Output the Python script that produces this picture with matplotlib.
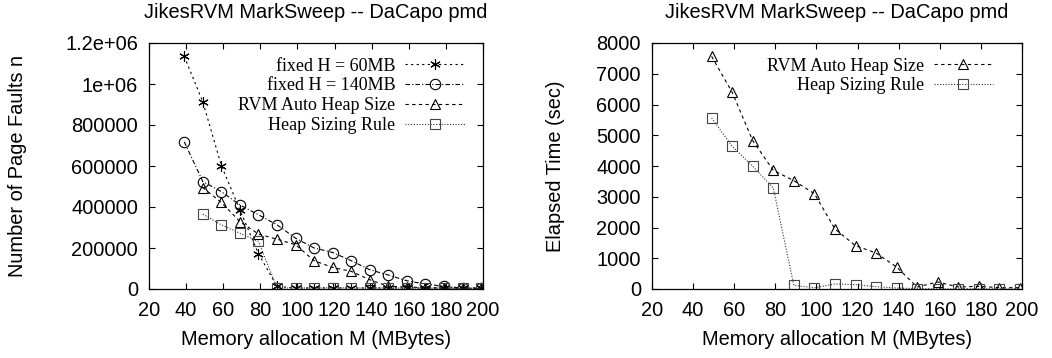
import matplotlib
matplotlib.use("Agg")
import matplotlib.pyplot as plt

# memory allocation (MB)
mem_left = [39, 49, 59, 69, 79, 89, 99, 109, 119, 129, 139, 149, 159, 169, 179, 189, 199]
mem_auto = mem_left[1:]

# page faults
faults_fixed60 = [1135000, 913000, 602000, 386000, 172000, 13000, 5000, 5000, 5000, 5000,
                  5000, 5000, 5000, 5000, 5000, 5000, 5000]
faults_fixed140 = [718000, 524000, 475000, 410000, 362000, 313000, 248000, 200000, 178000,
                   138000, 94000, 68000, 40000, 24000, 13000, 5000, 3000]
faults_auto = [495000, 422000, 329000, 268000, 243000, 216000, 138000, 105000, 86000,
               45000, 13000, 10000, 6000, 5000, 4000, 3000]
faults_rule = [365000, 313000, 272000, 232000, 5000, 5000, 5000, 6000, 5000,
               5000, 5000, 5000, 4000, 4000, 3000, 3000]

# elapsed time (sec)
time_auto = [7566, 6396, 4824, 3859, 3523, 3100, 1951, 1409, 1171, 715, 65, 228, 65, 87, 43, 43]
time_rule = [5561, 4640, 3989, 3285, 119, 40, 163, 141, 76, 33, 11, 5, 5, 5, 5, 5]

plt.rcParams['font.family'] = ['Liberation Sans', 'DejaVu Sans']
plt.rcParams['font.size'] = 14.4

fig = plt.figure(figsize=(10.52, 3.58), dpi=100)
ax1 = fig.add_axes([149 / 1052, 1 - 289 / 358, 334 / 1052, 246 / 358])
ax2 = fig.add_axes([652 / 1052, 1 - 289 / 358, 370 / 1052, 246 / 358])

mk = dict(markerfacecolor='none', markersize=7.5, markeredgewidth=0.8, linewidth=0.8)

ax1.plot(mem_left, faults_fixed60, linestyle=(0, (2, 3)), color='black', marker=(6, 2, 0),
         label='fixed H = 60MB', **mk)
ax1.plot(mem_left, faults_fixed140, linestyle=(0, (4, 2, 1, 2)), color='black', marker='o',
         label='fixed H = 140MB', **mk)
ax1.plot(mem_auto, faults_auto, linestyle=(0, (3, 3)), color='black', marker='^',
         label='RVM Auto Heap Size', **mk)
ax1.plot(mem_auto, faults_rule, linestyle=(0, (1, 1.5)), color='#333333', marker='s',
         markeredgecolor='#444444', label='Heap Sizing Rule', **mk)

ax2.plot(mem_auto, time_auto, linestyle=(0, (3, 3)), color='black', marker='^',
         label='RVM Auto Heap Size', **mk)
ax2.plot(mem_auto, time_rule, linestyle=(0, (1, 1.5)), color='#333333', marker='s',
         markeredgecolor='#444444', label='Heap Sizing Rule', **mk)

ax1.set_ylim(0, 1.2e6)
ax1.set_yticks([0, 200000, 400000, 600000, 800000, 1000000, 1200000])
ax1.set_yticklabels(['0', '200000', '400000', '600000', '800000', '1e+06', '1.2e+06'])
ax1.set_ylabel('Number of Page Faults n')
ax1.yaxis.set_label_coords(-0.366, 0.5)

ax2.set_ylim(0, 8000)
ax2.set_yticks(range(0, 8001, 1000))
ax2.set_ylabel('Elapsed Time (sec)')
ax2.yaxis.set_label_coords(-0.235, 0.5)

for ax, anchor_x in ((ax1, 0.946), (ax2, 0.922)):
    ax.set_xlim(20, 200)
    ax.set_xticks(range(20, 201, 20))
    ax.set_xlabel('Memory allocation M (MBytes)')
    ax.xaxis.set_label_coords(0.5, -0.167)
    ax.set_title('JikesRVM MarkSweep -- DaCapo pmd', y=1.122, va='center', pad=0,
                 fontsize=14.4)
    ax.tick_params(direction='in', top=True, right=True, length=4, width=0.8)
    ax.tick_params(axis='y', pad=8)
    ax.tick_params(axis='x', pad=9)
    for s in ax.spines.values():
        s.set_linewidth(0.9)
    ax.legend(loc='upper right', bbox_to_anchor=(anchor_x, 0.94), frameon=False,
              markerfirst=False, handlelength=3.3, handletextpad=0.55,
              prop={'family': 'Liberation Serif', 'size': 13}, labelspacing=0.15,
              borderaxespad=0, borderpad=0)

fig.savefig('out.png', dpi=100)
